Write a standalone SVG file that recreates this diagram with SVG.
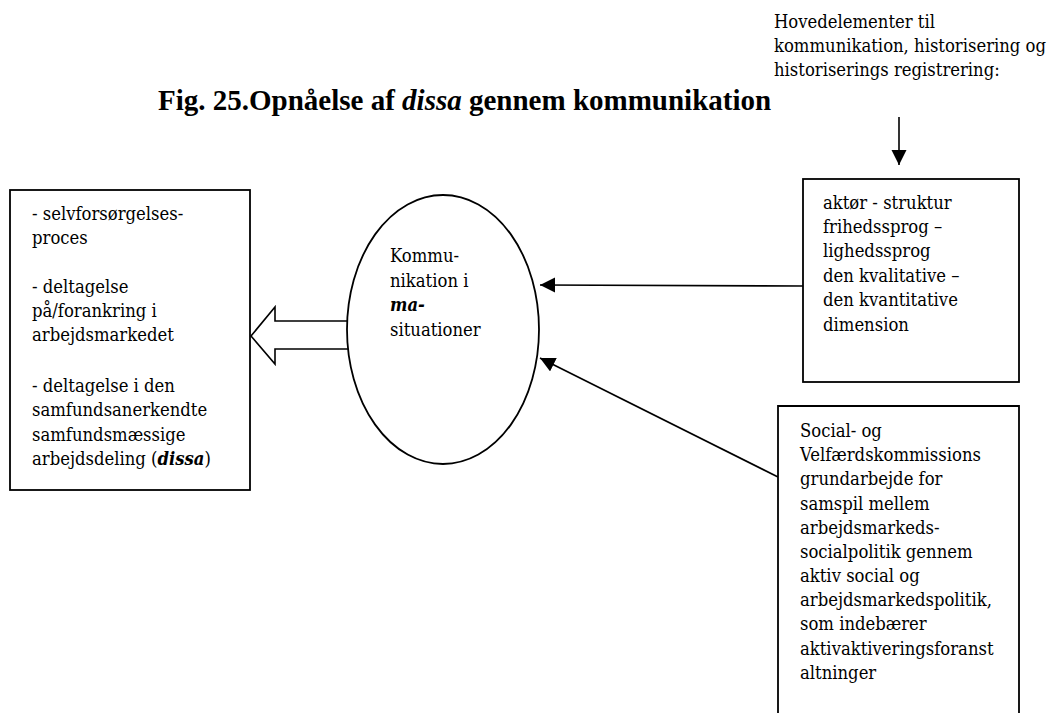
<svg xmlns="http://www.w3.org/2000/svg" width="1055" height="713" viewBox="0 0 1055 713">
<style>
.box{fill:#fff;stroke:#000;stroke-width:1.8}
.ln{stroke:#000;stroke-width:1.6;fill:none}
.b{font-family:'DejaVu Serif Condensed','DejaVu Serif',serif;font-stretch:condensed;font-size:18.3px}
.title{font-family:'Liberation Serif','Times New Roman',serif;font-weight:bold;font-size:29px}
</style>
<defs>
<marker id="ah" markerWidth="16" markerHeight="16" refX="15" refY="7.5" orient="auto" markerUnits="userSpaceOnUse">
<path d="M0,0 L15,7.5 L0,15 Z" fill="#000"/>
</marker>
</defs>
<rect width="1055" height="713" fill="#fff"/>
<g fill="#000">
<text class="title" x="158" y="110">Fig. 25.Opnåelse af <tspan font-style="italic">dissa</tspan> gennem kommunikation</text>
<g id="header" class="b">
<text x="774" y="28">Hovedelementer til</text>
<text x="774" y="52">kommunikation, historisering og</text>
<text x="774" y="76">historiserings registrering:</text>
</g>
<g id="connectors">
<polygon points="251,336 275,307 275,321 352,321 352,349 275,349 275,364" fill="#fff" stroke="#000" stroke-width="1.6"/>
<line class="ln" x1="899" y1="117" x2="899" y2="165" marker-end="url(#ah)"/>
<line class="ln" x1="803" y1="286" x2="540" y2="285" marker-end="url(#ah)"/>
<line class="ln" x1="778" y1="477" x2="540" y2="358" marker-end="url(#ah)"/>
</g>
<g id="left" class="b">
<rect class="box" x="10" y="190" width="240" height="300"/>
<text x="32" y="220">- selvforsørgelses-</text>
<text x="32" y="244">proces</text>
<text x="32" y="293">- deltagelse</text>
<text x="32" y="317">på/forankring i</text>
<text x="32" y="341">arbejdsmarkedet</text>
<text x="32" y="392">- deltagelse i den</text>
<text x="32" y="416">samfundsanerkendte</text>
<text x="32" y="441">samfundsmæssige</text>
<text x="32" y="465">arbejdsdeling (<tspan font-weight="bold" font-style="italic">dissa</tspan>)</text>
</g>
<g id="center" class="b">
<ellipse class="box" cx="443" cy="329.5" rx="96" ry="134.5"/>
<text x="390" y="262">Kommu-</text>
<text x="390" y="287">nikation i</text>
<text x="390" y="311" font-weight="bold" font-style="italic">ma-</text>
<text x="390" y="336">situationer</text>
</g>
<g id="topright" class="b">
<rect class="box" x="803" y="179" width="216" height="203"/>
<text x="823" y="209">aktør - struktur</text>
<text x="823" y="233">frihedssprog –</text>
<text x="823" y="257">lighedssprog</text>
<text x="823" y="282">den kvalitative –</text>
<text x="823" y="306">den kvantitative</text>
<text x="823" y="331">dimension</text>
</g>
<g id="bottomright" class="b">
<path class="box" d="M778,720 L778,406 L1019,406 L1019,720"/>
<text x="800" y="437">Social- og</text>
<text x="800" y="461">Velfærdskommissions</text>
<text x="800" y="485">grundarbejde for</text>
<text x="800" y="510">samspil mellem</text>
<text x="800" y="534">arbejdsmarkeds-</text>
<text x="800" y="558">socialpolitik gennem</text>
<text x="800" y="582">aktiv social og</text>
<text x="800" y="606">arbejdsmarkedspolitik,</text>
<text x="800" y="630">som indebærer</text>
<text x="800" y="655">aktivaktiveringsforanst</text>
<text x="800" y="679">altninger</text>
</g>
</g>
</svg>
